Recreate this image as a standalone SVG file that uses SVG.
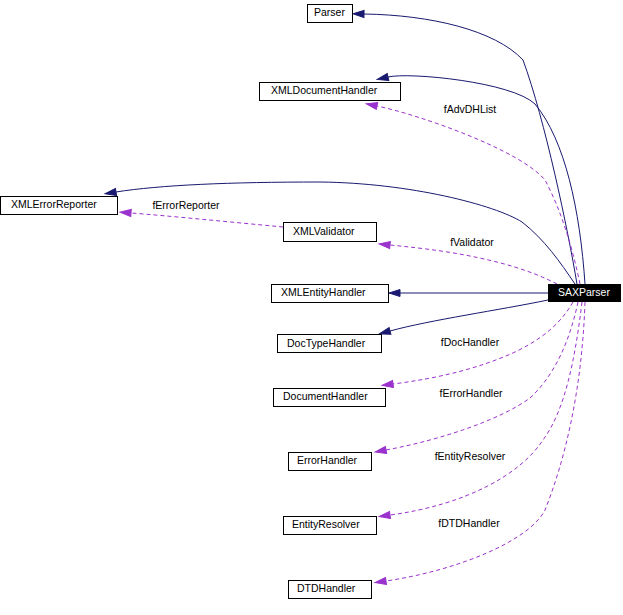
<svg xmlns="http://www.w3.org/2000/svg" width="623" height="615" viewBox="0 0 623 615">
<style>
.box{fill:#ffffff;stroke:#000000;stroke-width:1}
.t{font-family:"Liberation Sans",Arial,sans-serif;font-size:10.5px;fill:#000000}
.inh{fill:none;stroke:#191970;stroke-width:1}
.use{fill:none;stroke:#9a32cd;stroke-width:1;stroke-dasharray:4,3}
.lbl{font-family:"Liberation Sans",Arial,sans-serif;font-size:10.5px;fill:#000000;text-anchor:middle}
</style>
<defs>
<marker id="an" markerUnits="userSpaceOnUse" markerWidth="11" markerHeight="8" refX="0" refY="3.5" orient="auto" overflow="visible">
<path d="M0,0 L11,3.5 L0,7 z" fill="#191970" stroke="#191970" stroke-width="1"/>
</marker>
<marker id="ap" markerUnits="userSpaceOnUse" markerWidth="11" markerHeight="8" refX="0" refY="3.5" orient="auto" overflow="visible">
<path d="M0,0 L11,3.5 L0,7 z" fill="#9a32cd" stroke="#9a32cd" stroke-width="1"/>
</marker>
</defs>
<rect width="623" height="615" fill="#ffffff"/>
<g id="connectors">
<path class="inh" marker-end="url(#an)" d="M577,284 C568,230 545,120 523,60 C495,30 430,15 364,14"/>
<path class="inh" marker-end="url(#an)" d="M585,284 C580,210 565,140 535,104 C512,82 410,72 388,77"/>
<path class="inh" marker-end="url(#an)" d="M575,284 C560,262 545,240 522,222 C495,205 410,183 320,182 C230,182 160,185 116,192"/>
<path class="inh" marker-end="url(#an)" d="M548,293 L400,293"/>
<path class="inh" marker-end="url(#an)" d="M548,300 C500,310 430,320 390,331"/>
<path class="use" marker-end="url(#ap)" d="M580,284 C572,245 560,208 545,180 C520,150 420,115 377,106"/>
<text class="lbl" x="470" y="113">fAdvDHList</text>
<path class="use" marker-end="url(#ap)" d="M557,284 C530,270 500,262 470,256 C440,250 410,247 390,245"/>
<text class="lbl" x="472" y="246">fValidator</text>
<path class="use" marker-end="url(#ap)" d="M283,227 C230,222 170,216 131,213"/>
<text class="lbl" x="186" y="209">fErrorReporter</text>
<path class="use" marker-end="url(#ap)" d="M573,302 C560,325 540,340 515,352 C480,368 440,378 393,384"/>
<text class="lbl" x="470" y="346">fDocHandler</text>
<path class="use" marker-end="url(#ap)" d="M578,302 C570,340 555,375 530,398 C500,420 440,440 386,450"/>
<text class="lbl" x="471" y="397">fErrorHandler</text>
<path class="use" marker-end="url(#ap)" d="M582,302 C575,360 565,410 543,440 C520,475 465,505 390,515"/>
<text class="lbl" x="470" y="460">fEntityResolver</text>
<path class="use" marker-end="url(#ap)" d="M585,302 C582,390 565,460 545,510 C530,540 460,570 386,581"/>
<text class="lbl" x="469" y="527">fDTDHandler</text>
</g>
<g id="SAXParser">
<rect x="548.5" y="284.5" width="72" height="17" fill="#000000" stroke="#000000"/>
<text class="t" x="558" y="296" fill="#ffffff" style="fill:#ffffff">SAXParser</text>
</g>
<g id="Parser">
<rect class="box" x="307.5" y="4.5" width="45" height="18"/>
<text class="t" x="314" y="16">Parser</text>
</g>
<g id="XMLDocumentHandler">
<rect class="box" x="259.5" y="82.5" width="141" height="18"/>
<text class="t" x="271" y="94">XMLDocumentHandler</text>
</g>
<g id="XMLErrorReporter">
<rect class="box" x="0.5" y="196.5" width="117" height="18"/>
<text class="t" x="11" y="208">XMLErrorReporter</text>
</g>
<g id="XMLValidator">
<rect class="box" x="283.5" y="222.5" width="93" height="19"/>
<text class="t" x="293" y="235">XMLValidator</text>
</g>
<g id="XMLEntityHandler">
<rect class="box" x="271.5" y="284.5" width="117" height="18"/>
<text class="t" x="281" y="296">XMLEntityHandler</text>
</g>
<g id="DocTypeHandler">
<rect class="box" x="277.5" y="334.5" width="104" height="18"/>
<text class="t" x="287" y="347">DocTypeHandler</text>
</g>
<g id="DocumentHandler">
<rect class="box" x="273.5" y="388.5" width="112" height="18"/>
<text class="t" x="283" y="400">DocumentHandler</text>
</g>
<g id="ErrorHandler">
<rect class="box" x="288.5" y="452.5" width="83" height="18"/>
<text class="t" x="297" y="464">ErrorHandler</text>
</g>
<g id="EntityResolver">
<rect class="box" x="283.5" y="516.5" width="93" height="18"/>
<text class="t" x="292" y="528">EntityResolver</text>
</g>
<g id="DTDHandler">
<rect class="box" x="288.5" y="580.5" width="83" height="18"/>
<text class="t" x="297" y="592">DTDHandler</text>
</g>
</svg>
